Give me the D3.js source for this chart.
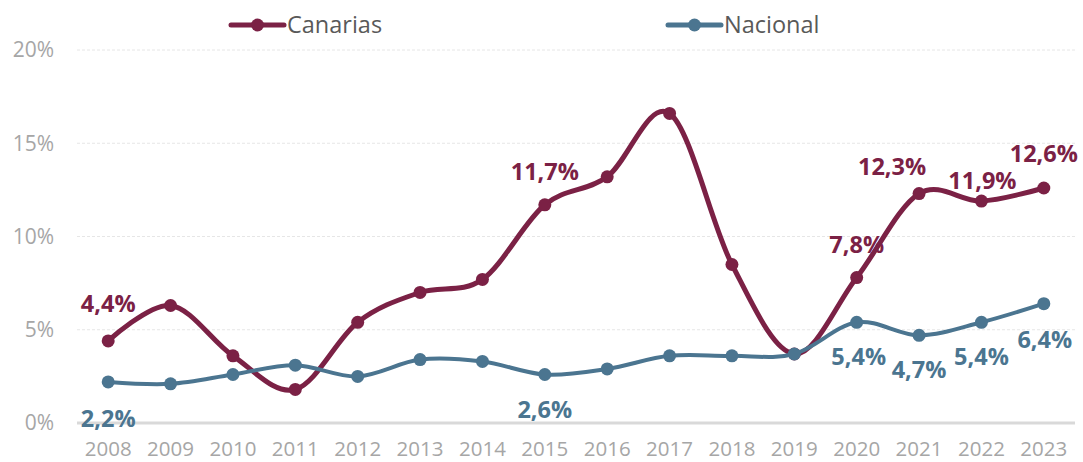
<!DOCTYPE html>
<html>
  <meta charset="utf-8">
  <head>
    <script src="https://d3js.org/d3.v7.min.js"></script>
    <style>
      body { margin: 0; background: #fff; }
      text { font-family: "Open Sans", sans-serif; }
    </style>
  </head>
  <body>
    <div id="viz"></div>
    <script type="text/javascript">
      // data
      var years = ["2008","2009","2010","2011","2012","2013","2014","2015","2016","2017","2018","2019","2020","2021","2022","2023"];
      var canarias = [4.4, 6.3, 3.6, 1.8, 5.4, 7.0, 7.7, 11.7, 13.2, 16.6, 8.5, 3.7, 7.8, 12.3, 11.9, 12.6];
      var nacional = [2.2, 2.1, 2.6, 3.1, 2.5, 3.4, 3.3, 2.6, 2.9, 3.6, 3.6, 3.7, 5.4, 4.7, 5.4, 6.4];
      var yTicks = [0, 5, 10, 15, 20];
      // which points get a value label: [index, dx, dy]
      var canariasLabels = [[0, 0, -29], [7, 0, -25], [12, 0, -25], [13, -27, -19], [14, 1, -12], [15, 0, -26]];
      var nacionalLabels = [[0, 0, 45], [7, 0, 43], [12, 2, 43], [13, 0, 43], [14, 0, 43], [15, 1, 44]];

      var width = 1083, height = 462;
      var colCan = "#7b2145", colNac = "#4b7590";

      var svg = d3.select("#viz").append("svg")
        .attr("width", width)
        .attr("height", height);

      var x = d3.scalePoint().domain(years).range([77, 1075]).padding(0.5);
      var y = d3.scaleLinear().domain([0, 20]).range([423, 50]);

      // gridlines
      svg.append("g").selectAll("line")
        .data(yTicks.filter(d => d > 0))
        .enter().append("line")
          .attr("x1", 77).attr("x2", 1075)
          .attr("y1", d => y(d)).attr("y2", d => y(d))
          .attr("stroke", "#e6e6e6")
          .attr("stroke-width", 1)
          .attr("stroke-dasharray", "3,2");

      svg.append("line")
        .attr("x1", 77).attr("x2", 1075)
        .attr("y1", y(0)).attr("y2", y(0))
        .attr("stroke", "#d9d9d9")
        .attr("stroke-width", 3);

      // y labels
      svg.append("g").selectAll("text")
        .data(yTicks)
        .enter().append("text")
          .attr("x", 54)
          .attr("y", d => y(d))
          .attr("dy", "0.35em")
          .attr("text-anchor", "end")
          .attr("fill", "#a6a6a6")
          .style("font-size", "21px")
          .text(d => d + "%");

      // x labels
      svg.append("g").selectAll("text")
        .data(years)
        .enter().append("text")
          .attr("x", d => x(d))
          .attr("y", 456)
          .attr("text-anchor", "middle")
          .attr("fill", "#a6a6a6")
          .style("font-size", "20.5px")
          .text(d => d);

      var line = d3.line()
        .x((d, i) => x(years[i]))
        .y(d => y(d))
        .curve(d3.curveCatmullRom.alpha(0));

      function drawSeries(vals, color, w) {
        svg.append("path")
          .datum(vals)
          .attr("d", line)
          .attr("fill", "none")
          .attr("stroke", color)
          .attr("stroke-width", w)
          .attr("stroke-linecap", "round");
        svg.append("g").selectAll("circle")
          .data(vals)
          .enter().append("circle")
            .attr("cx", (d, i) => x(years[i]))
            .attr("cy", d => y(d))
            .attr("r", 6.5)
            .attr("fill", color);
      }

      function fmt(v) { return v.toFixed(1).replace(".", ",") + "%"; }

      function drawLabels(vals, labels, color) {
        svg.append("g").selectAll("text")
          .data(labels)
          .enter().append("text")
            .attr("x", d => x(years[d[0]]) + d[1])
            .attr("y", d => y(vals[d[0]]) + d[2])
            .attr("text-anchor", "middle")
            .attr("fill", color)
            .style("font-size", "23.5px")
            .style("font-weight", "bold")
            .text(d => fmt(vals[d[0]]));
      }

      drawSeries(canarias, colCan, 5);
      drawSeries(nacional, colNac, 4);
      drawLabels(canarias, canariasLabels, colCan);
      drawLabels(nacional, nacionalLabels, colNac);

      // legend
      var legend = [
        {name: "Canarias", color: colCan, x: 231},
        {name: "Nacional", color: colNac, x: 668}
      ];
      var lg = svg.append("g").selectAll("g")
        .data(legend)
        .enter().append("g")
          .attr("transform", d => "translate(" + d.x + ",25)");
      lg.append("line")
        .attr("x1", 0).attr("x2", 53)
        .attr("stroke", d => d.color)
        .attr("stroke-width", 5)
        .attr("stroke-linecap", "round");
      lg.append("circle")
        .attr("cx", 26.5).attr("r", 6.5)
        .attr("fill", d => d.color);
      lg.append("text")
        .attr("x", 56)
        .attr("dy", "0.35em")
        .attr("fill", "#595959")
        .style("font-size", "23.5px")
        .text(d => d.name);
    </script>
  </body>
</html>
